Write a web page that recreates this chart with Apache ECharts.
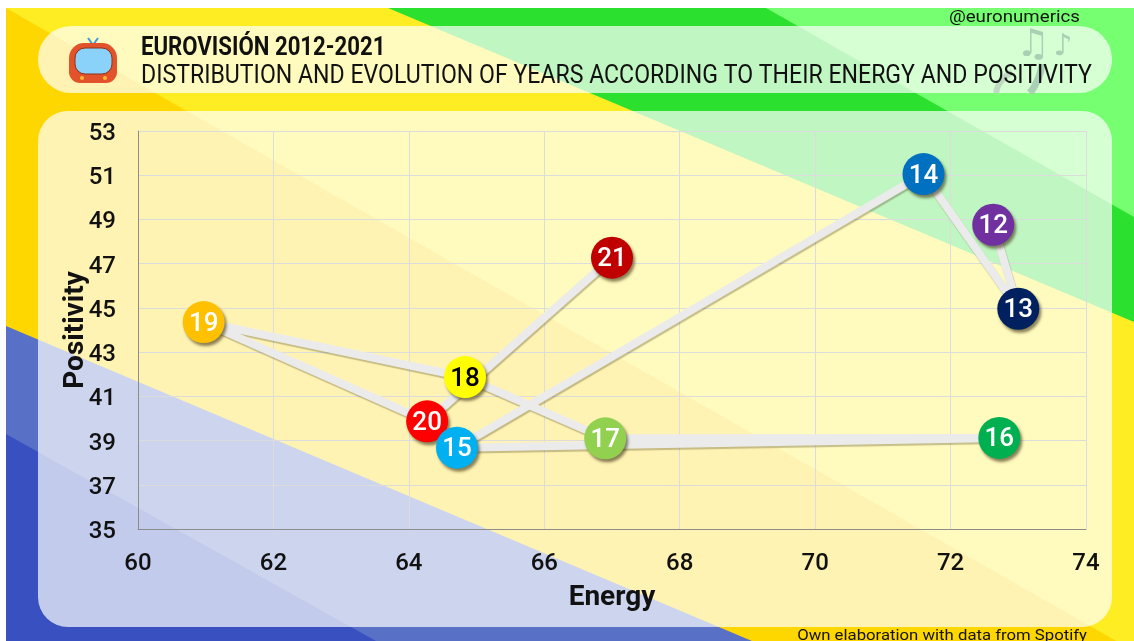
<!DOCTYPE html>
<html><head><meta charset="utf-8">
<style>html,body{margin:0;padding:0;background:#fff}#c{width:1134px;height:641px}</style>
<script src="https://cdn.jsdelivr.net/npm/echarts@6/dist/echarts.min.js"></script>
</head><body><div id="c"></div>
<script>
const years = ['12','13','14','15','16','17','18','19','20','21'];
const energy = [72.63,73.0,71.6,64.71,72.72,66.9,64.83,60.97,64.27,67.0];
const positivity = [48.76,44.96,51.05,38.68,39.12,39.1,41.87,44.36,39.87,47.27];
const pointColors = ['#7030A0','#002060','#0070C0','#00B0F0','#00B050','#92D050','#FFFF00','#FFC000','#FF0000','#C00000'];
const labelColors = ['#fff','#fff','#fff','#fff','#fff','#fff','#000','#fff','#fff','#fff'];
const chart = echarts.init(document.getElementById('c'),null,{renderer:'canvas'});
const poly=(pts,fill,z)=>({type:'polygon',z:z,silent:true,shape:{points:pts},style:{fill}});
const txt=(x,y,t,size,weight,o={})=>({type:'text',x,y,z:o.z||5,silent:true,scaleX:o.sx||1,style:{text:t,font:`${weight} ${size}px Roboto`,fill:'#111',textAlign:o.align||'left',textVerticalAlign:'middle'}});
const NOTE='#A9CFB4';
const graphic=[
 {type:'rect',z:-20,silent:true,shape:{x:6,y:8,width:1128,height:633},style:{fill:'#FFED24'}},
 poly([[6,8],[1134,651],[6,651]],'#FFD700',-19),
 poly([[6,326],[752,641],[6,641]],'#5870C5',-18),
 poly([[6,434],[376,641],[6,641]],'#3850C0',-17),
 poly([[388,8],[1134,322],[1134,8]],'#2CE02F',-16),
 poly([[766,8],[1134,217],[1134,8]],'#76FF70',-15),
 {type:'rect',z:-10,silent:true,shape:{x:38,y:26,width:1074,height:67,r:33},style:{fill:'rgba(255,255,255,0.7)'}},
 {type:'rect',z:-10,silent:true,shape:{x:38,y:111,width:1074,height:516,r:30},style:{fill:'rgba(255,255,255,0.7)'}},
 {type:'text',x:1033,y:46,z:-9,silent:true,style:{text:'♫',font:'38px "DejaVu Sans"',fill:NOTE,textAlign:'center',textVerticalAlign:'middle'}},
 {type:'text',x:1063,y:47,z:-9,silent:true,style:{text:'♪',font:'30px "DejaVu Sans"',fill:NOTE,textAlign:'center',textVerticalAlign:'middle'}},
 {type:'bezierCurve',z:-9,silent:true,shape:{x1:996,y1:93,x2:1012,y2:72,cpx1:998,cpy1:80},style:{stroke:'#BFD9C3',lineWidth:6,fill:null}},
 {type:'bezierCurve',z:-9,silent:true,shape:{x1:1030,y1:93,x2:1042,y2:64,cpx1:1040,cpy1:80},style:{stroke:NOTE,lineWidth:7,fill:null}},
 {type:'line',z:3,silent:true,shape:{x1:93,y1:45,x2:88,y2:38},style:{stroke:'#3D9BD8',lineWidth:2}},
 {type:'line',z:3,silent:true,shape:{x1:93,y1:45,x2:98,y2:38},style:{stroke:'#3D9BD8',lineWidth:2}},
 {type:'rect',z:4,silent:true,shape:{x:69,y:43,width:48,height:40,r:[15,15,11,11]},style:{fill:'#E2532B'}},
 {type:'rect',z:5,silent:true,shape:{x:75,y:48,width:37,height:26,r:10},style:{fill:'#8AD2FA',stroke:'#8A3419',lineWidth:1}},
 {type:'circle',z:6,silent:true,shape:{cx:82,cy:78,r:2},style:{fill:'#FFB92E'}},
 {type:'circle',z:6,silent:true,shape:{cx:105,cy:78,r:2},style:{fill:'#FFB92E'}},
 txt(141,49,'EUROVISIÓN 2012-2021',25,700,{sx:0.887}),
 txt(141,77,'DISTRIBUTION AND EVOLUTION OF YEARS ACCORDING TO THEIR ENERGY AND POSITIVITY',25,400,{sx:0.924}),
 txt(1080,18,'@euronumerics',17,400,{align:'right',sx:1.1}),
 txt(1087,636,'Own elaboration with data from Spotify',15,400,{align:'right',sx:1.115})
];
const axisLabel={color:'#111',fontFamily:'Roboto',fontSize:24,fontWeight:500,showMinLabel:true,showMaxLabel:true};
const nameStyle={fontFamily:'Roboto',fontWeight:'bold',fontSize:28,color:'#111'};
chart.setOption({
 animation:false,
 grid:{left:138,right:48,top:131,bottom:112},
 graphic:{elements:graphic},
 xAxis:{type:'value',min:60,max:74,interval:2,
  name:'Energy',nameLocation:'middle',nameGap:55,nameMoveOverlap:false,nameTextStyle:nameStyle,
  axisLine:{show:true,lineStyle:{color:'#8c8c8c',width:1}},axisTick:{show:false},
  axisLabel:Object.assign({margin:19,padding:[4,0,0,0]},axisLabel),
  splitLine:{show:true,lineStyle:{color:'#dcdcdc',width:1}}},
 yAxis:{type:'value',min:35,max:53,interval:2,
  name:'Positivity',nameLocation:'middle',nameGap:48,nameMoveOverlap:false,nameRotate:90,nameTextStyle:nameStyle,
  axisLine:{show:true,lineStyle:{color:'#8c8c8c',width:1}},axisTick:{show:false},
  axisLabel:Object.assign({margin:22,verticalAlign:'top',lineHeight:6},axisLabel),
  splitLine:{show:true,lineStyle:{color:'#dcdcdc',width:1}}},
 series:[
  {type:'line',z:2,symbol:'none',smooth:false,clip:false,
   lineStyle:{color:'#EBEBEB',width:8,shadowColor:'rgba(90,80,40,0.35)',shadowBlur:1,shadowOffsetX:1,shadowOffsetY:2},
   data:years.map((y,i)=>[energy[i],positivity[i]])},
  {type:'scatter',z:6,symbol:'circle',symbolSize:42,clip:false,
   data:years.map((y,i)=>({value:[energy[i],positivity[i]],
     itemStyle:{color:pointColors[i],opacity:1,shadowColor:'rgba(60,50,20,0.6)',shadowBlur:3,shadowOffsetX:2,shadowOffsetY:3},
     label:{show:true,position:'inside',offset:[0,2],formatter:y,color:labelColors[i],fontFamily:'Roboto',fontSize:26,fontWeight:500}})).reverse()}
 ]
});
</script></body></html>
